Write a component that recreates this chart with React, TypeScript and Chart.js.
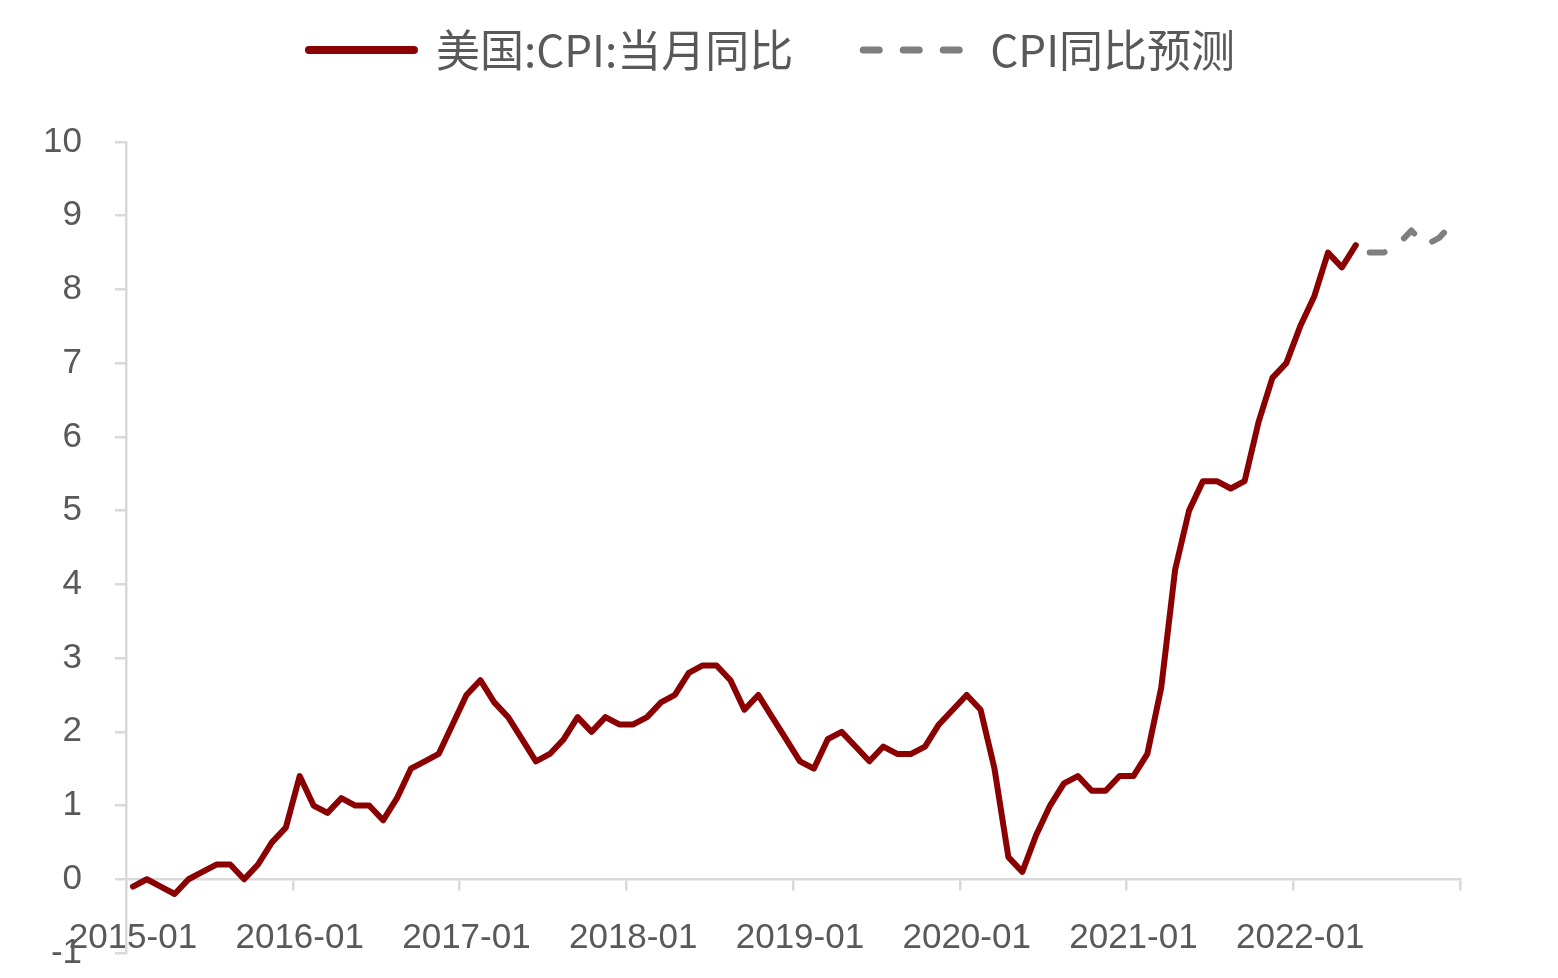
import React, { useEffect, useRef } from 'react';
import { Chart, registerables } from 'chart.js';

Chart.register(...registerables);

// Monthly categories 2015-01 .. 2022-12
const years = [2015, 2016, 2017, 2018, 2019, 2020, 2021, 2022];
const monthNums = ['01', '02', '03', '04', '05', '06', '07', '08', '09', '10', '11', '12'];
const months: string[] = [];
years.forEach((y) => monthNums.forEach((m) => months.push(`${y}-${m}`)));

// 美国:CPI:当月同比 (2015-01 .. 2022-05)
const cpi2015 = [-0.1, 0.0, -0.1, -0.2, 0.0, 0.1, 0.2, 0.2, 0.0, 0.2, 0.5, 0.7];
const cpi2016 = [1.4, 1.0, 0.9, 1.1, 1.0, 1.0, 0.8, 1.1, 1.5, 1.6, 1.7, 2.1];
const cpi2017 = [2.5, 2.7, 2.4, 2.2, 1.9, 1.6, 1.7, 1.9, 2.2, 2.0, 2.2, 2.1];
const cpi2018 = [2.1, 2.2, 2.4, 2.5, 2.8, 2.9, 2.9, 2.7, 2.3, 2.5, 2.2, 1.9];
const cpi2019 = [1.6, 1.5, 1.9, 2.0, 1.8, 1.6, 1.8, 1.7, 1.7, 1.8, 2.1, 2.3];
const cpi2020 = [2.5, 2.3, 1.5, 0.3, 0.1, 0.6, 1.0, 1.3, 1.4, 1.2, 1.2, 1.4];
const cpi2021 = [1.4, 1.7, 2.6, 4.2, 5.0, 5.4, 5.4, 5.3, 5.4, 6.2, 6.8, 7.0];
const cpi2022 = [7.5, 7.9, 8.5, 8.3, 8.6];

// CPI同比预测 (2022-06 .. 2022-12)
const cpiForecast = [8.5, 8.5, 8.6, 8.8, 8.6, 8.7, 8.9];

const seriesNames = ['美国:CPI:当月同比', 'CPI同比预测'];
const yMin = -1;
const yMax = 10;

const cpiActual = [...cpi2015, ...cpi2016, ...cpi2017, ...cpi2018, ...cpi2019, ...cpi2020, ...cpi2021, ...cpi2022];

const AXIS_COLOR = '#d9d9d9';
const TEXT_COLOR = '#595959';
const TICK_FONT = "'Liberation Sans', sans-serif";
const LEGEND_FONT = "'Noto Sans CJK SC', sans-serif";

const CANVAS_W = 1542;
const CANVAS_H = 999;
const VIEW_H = 962;

const legendSpacer = {
  id: 'legendSpacer',
  beforeLayout(chart: any) {
    const legend = chart.legend;
    if (legend && !legend.__patched) {
      const origFit = legend.fit;
      legend.fit = function () {
        origFit.call(this);
        this.height = 184;
      };
      legend.__patched = true;
    }
  },
  afterLayout(chart: any) {
    const legend = chart.legend;
    if (legend) {
      legend.left += 38;
      legend.right += 38;
    }
  },
};

export default function App() {
  const canvasRef = useRef<HTMLCanvasElement | null>(null);

  useEffect(() => {
    if (!canvasRef.current) return;
    const actualData = months.map((_, i) => (i < cpiActual.length ? cpiActual[i] : null));
    const forecastData = months.map((_, i) => {
      const j = i - cpiActual.length;
      return j >= 0 && j < cpiForecast.length ? cpiForecast[j] : null;
    });

    const chart = new Chart(canvasRef.current, {
      type: 'line',
      data: {
        labels: months,
        datasets: [
          {
            label: seriesNames[0],
            data: actualData,
            borderColor: '#8b0000',
            backgroundColor: '#8b0000',
            borderWidth: 6,
            pointRadius: 0,
            borderJoinStyle: 'round',
            borderCapStyle: 'round',
            tension: 0,
            spanGaps: false,
          },
          {
            label: seriesNames[1],
            data: forecastData,
            borderColor: '#7f7f7f',
            backgroundColor: '#7f7f7f',
            borderWidth: 6,
            borderDash: [15, 24],
            pointRadius: 0,
            borderJoinStyle: 'round',
            borderCapStyle: 'round',
            tension: 0,
            spanGaps: false,
          },
        ],
      },
      options: {
        responsive: false,
        animation: false,
        maintainAspectRatio: false,
        layout: { padding: { top: -50, right: 90, left: 0, bottom: 0 } },
        plugins: {
          tooltip: { enabled: false },
          legend: {
            display: true,
            position: 'top',
            align: 'center',
            labels: {
              usePointStyle: true,
              pointStyle: 'line',
              pointStyleWidth: 105,
              padding: 70,
              color: TEXT_COLOR,
              font: { family: LEGEND_FONT, size: 44 },
              generateLabels(chart: any) {
                const items = Chart.defaults.plugins.legend.labels.generateLabels(chart);
                return items.map((it: any, i: number) => ({
                  ...it,
                  pointStyle: 'line',
                  lineWidth: i === 0 ? 8 : 7,
                  lineCap: 'round',
                  lineDash: i === 0 ? [] : [16, 24],
                  fontColor: TEXT_COLOR,
                }));
              },
            },
          },
        },
        scales: {
          x: {
            type: 'category',
            position: { y: 0 } as any,
            offset: true,
            afterFit(scale: any) {
              scale.height = 0;
            },
            grid: {
              display: true,
              offset: true,
              drawOnChartArea: false,
              drawTicks: true,
              tickLength: 10,
              lineWidth: 2.5,
              tickColor: (ctx: any) =>
                ctx.type === 'scale' || (ctx.index !== undefined && ctx.index % 12 === 0) ? AXIS_COLOR : 'rgba(0,0,0,0)',
              color: AXIS_COLOR,
            },
            border: { display: true, color: AXIS_COLOR, width: 2.5 },
            ticks: {
              autoSkip: false,
              maxRotation: 0,
              minRotation: 0,
              padding: 28,
              color: TEXT_COLOR,
              font: { family: TICK_FONT, size: 35 },
              callback: (_v: any, i: number) => (months[i].endsWith('-01') ? months[i] : ''),
            },
          },
          y: {
            type: 'linear',
            position: 'left',
            min: yMin,
            max: yMax,
            afterFit(scale: any) {
              scale.width = 118;
            },
            grid: {
              display: true,
              drawOnChartArea: false,
              drawTicks: true,
              tickLength: 11,
              lineWidth: 2.5,
              color: AXIS_COLOR,
              tickColor: AXIS_COLOR,
            },
            border: { display: true, color: AXIS_COLOR, width: 2.5 },
            ticks: {
              stepSize: 1,
              padding: 33,
              color: TEXT_COLOR,
              font: { family: TICK_FONT, size: 35 },
            },
          },
        },
      },
      plugins: [legendSpacer],
    });
    return () => chart.destroy();
  }, []);

  return (
    <div style={{ width: CANVAS_W, height: VIEW_H, position: 'relative', overflow: 'hidden' }}>
      <canvas ref={canvasRef} width={CANVAS_W} height={CANVAS_H} style={{ width: CANVAS_W, height: CANVAS_H, display: 'block' }} />
    </div>
  );
}
